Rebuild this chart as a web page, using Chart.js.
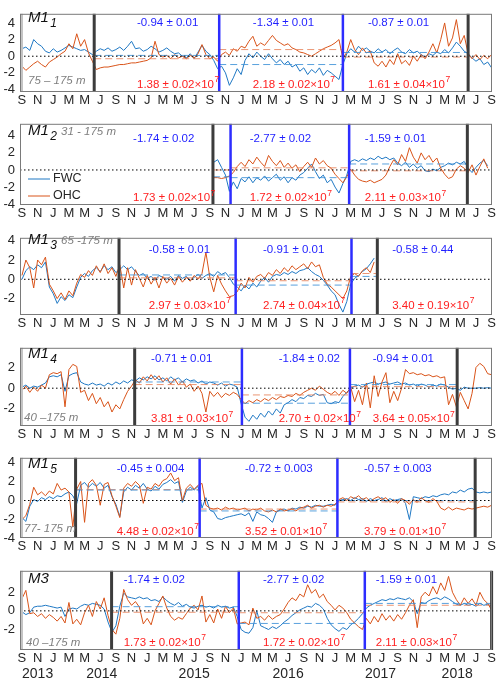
<!DOCTYPE html>
<html>
<head>
<meta charset="utf-8">
<script src="https://cdn.jsdelivr.net/npm/chart.js@4.4.1/dist/chart.umd.min.js"></script>
<style>
  html, body { margin: 0; padding: 0; background: #fff; }
  #fig { position: relative; width: 500px; height: 684px; }
  #fig canvas { position: absolute; left: 0; }
</style>
</head>
<body>
<div id="fig"></div>
<script>
const STEP = 0.5
const monthLetters = ['J', 'F', 'M', 'A', 'M', 'J', 'J', 'A', 'S', 'O', 'N', 'D']
const monthTicks = [0, 2, 4, 6, 8, 10, 12, 14, 16, 18, 20, 22, 24, 26, 28, 30,
  32, 34, 36, 38, 40, 42, 44, 46, 48, 50, 52, 54, 56, 58, 60]
const years = ['2013', '2014', '2015', '2016', '2017', '2018']
const yearMonths = [2.0, 10.2, 22.0, 34.0, 45.8, 55.6]

// ---- M1_1 ----
const m11Fwc = [
  0.9, 1.1, 0.7, 2.0, 1.5, 1.2, 0.6, 0.4, 0.9, 0.5,
  0.7, 1.0, 1.3, 1.1, 0.9, 0.7, 0.8, 0.5, 0.2, 0.6,
  0.9, 0.7, 1.0, 0.6, 0.8, 1.1, 0.7, 1.2, 1.8, 0.9,
  1.0, 0.6, 0.8, 1.2, 0.9, 0.5, 0.7, 1.0, 0.6, 0.3,
  0.4, 0.0, -0.2, 0.3, -0.3, 0.5, 1.3, 0.6, 0.2, -0.5,
  -1.5, -1.2, -2.0, -3.5, -2.6, -1.5, -2.2, -0.5, 0.3, -0.2,
  0.5, 0.0, -0.4, 0.3, -0.3, -0.8, -0.4, -1.0, -0.6, -1.3,
  -1.0, -1.8, -1.4, -2.2, -1.6, -2.0, -1.4, -2.3, -1.7, -2.0,
  -2.4, -2.8, -1.0, 0.3, 0.9, 0.5, 1.2, 0.7, 1.0, 0.6,
  0.4, 0.9, 0.5, 0.8, 0.3, 0.7, 1.0, 0.5, 0.3, 0.8,
  0.4, 0.6, 0.2, -0.1, 0.3, 0.1, 0.5, 0.3, 0.8, 0.4,
  1.0, 1.7, 1.2, 0.6, 0.3, -0.2, -0.6, -0.3, -1.0, -0.7,
  -1.4]
const m11Ohc = [
  -1.2, -1.7, -1.3, -0.9, -0.6, -1.0, -1.3, -0.7, -0.4, -0.1,
  0.3, 0.6, 1.5, 0.9, 2.7, 1.2, 2.0, 0.4, -0.6, -1.6,
  -1.4, -1.3, -1.3, -1.2, -1.1, -1.0, -1.0, -0.9, -0.8, -0.8,
  -0.7, -0.6, -0.5, -0.2, 1.8, 0.2, -0.1, 0.1, -0.3, 0.2,
  -0.2, 0.0, -0.3, 0.1, -0.2, 0.3, 1.4, 0.2, -0.3, -0.1,
  -0.6, 0.2, 0.5, 0.1, 0.9, 0.6, 1.2, 1.0, 1.8, 2.4,
  1.2, 1.6, 1.3, 1.9, 2.5, 1.9, 1.6, 1.3, 1.5, 1.0,
  0.8, 0.5, 0.4, 0.2, 0.0, 0.3, 0.6, 0.9, 1.1, 1.3,
  1.6, 2.0, -0.3, 0.5, 2.0, 0.8, 0.2, 1.0, 0.4, 0.6,
  -0.8, -1.2, -0.6, -1.3, -0.4, -1.0, 0.3, -0.9, -0.5, -1.1,
  0.0, -0.6, 0.2, -0.3, 0.5, 1.5, 0.4, 2.0, 4.0, 1.2,
  2.2, 4.4, 1.5, 2.5, 0.3, -0.3, 0.2, -0.4, 0.1, -0.3,
  0.2]
const m11Cuts = [9.23, 25.2, 41.0, 57.0]
const m11FwcMean = [0.1, -1.0, 0.45]
const m11OhcMean = [-0.3, 0.8, -0.1]
const m11FwcStats = ['-0.94 ± 0.01', '-1.34 ± 0.01', '-0.87 ± 0.01']
const m11OhcStats = ['1.38 ± 0.02', '2.18 ± 0.02', '1.61 ± 0.04']

// ---- M1_2 (starts Sep 2015) ----
const m12Start = 24.5
const m12Fwc = [
  0.9, 1.2, 0.3, -0.6, -2.5, -1.4, -2.2, -1.0, -1.4, -0.8,
  -1.5, -0.9, -1.2, -0.7, -1.3, -0.9, -0.5, -1.2, -0.8, -1.5,
  -0.9, -1.2, -0.6, -0.3, 0.2, 0.7, -0.2, -1.0, -0.6, -1.5,
  -1.1, -2.0, -2.7, -1.6, -0.6, 1.0, 1.2, 1.0, 1.3, 1.1,
  1.4, 1.2, 1.6, 1.3, 1.5, 1.2, 1.4, 0.8, 0.5, 0.9,
  0.3, 0.7, 0.2, 0.5, -0.1, -0.2, 0.1, -0.1, 0.3, 0.5,
  0.8, 0.6, 0.9, 0.7, 1.0, 0.2, -0.3, 0.3, 0.8, 1.1,
  0.5]
const m12Ohc = [
  -0.9, -0.9, -1.0, -0.9, -0.7, -0.3, 0.4, 0.9, 0.4, 1.2,
  0.7, 1.5, 0.9, 0.4, 1.7, 1.0, 0.5, 1.1, 0.3, 0.8,
  0.2, 0.6, -0.2, 0.4, 0.9, 0.3, 1.4, 0.7, 1.1, 0.5,
  0.2, -0.5, -1.0, -1.5, -0.8, 0.1, -0.6, -1.1, -1.3, -1.4,
  -1.2, -1.5, -1.3, -1.1, -0.6, 0.4, 1.2, 0.6, 1.8, 1.0,
  2.6, 1.5, 0.8, 2.0, 1.2, 1.7, 0.9, 1.4, 0.2, -0.5,
  -1.0, -0.8, 0.1, 0.5, 0.2, -0.3, 0.6, -0.6, 0.4, 1.3,
  0.2]
const m12Cuts = [24.4, 26.65, 41.8, 56.9]
const m12FwcMean = [-0.8, -0.9, 0.7]
const m12OhcMean = [0.0, 0.25, -0.1]
const m12FwcStats = ['-1.74 ± 0.02', '-2.77 ± 0.02', '-1.59 ± 0.01']
const m12OhcStats = ['1.73 ± 0.02', '1.72 ± 0.02', '2.11 ± 0.03']

// ---- M1_3 (ends Jun 2017) ----
const m13Fwc = [
  0.0, 0.9, 1.3, 1.0, 1.5, 1.2, 1.8, -0.8, -1.5, -2.5,
  -1.8, -2.2, -1.6, -1.9, -0.8, 0.2, 0.6, 0.3, 0.9, 1.2,
  0.8, 1.4, 1.0, 1.3, 0.7, 1.0, 1.4, 1.0, 1.3, 0.8,
  0.4, 0.6, 0.1, 0.3, -0.1, 0.4, 0.2, 0.0, 0.3, -0.2,
  0.4, 0.1, 0.3, -0.1, 0.2, 0.5, 0.1, 0.4, 0.6, 0.3,
  0.8, 0.5, 0.7, 0.2, -0.5, -0.8, -1.2, -0.6, -1.0, -0.4,
  -0.8, -0.2, 0.2, -0.3, 0.3, 0.5, 0.4, 0.7, 0.5, 0.8,
  0.6, 0.9, 1.0, 1.2, 0.8, 0.5, 0.3, -0.1, -0.6, -1.2,
  -1.6, -2.6, -3.4, -2.3, -0.5, 0.1, 0.4, 0.8, 1.1, 1.6,
  2.2]
const m13Ohc = [
  0.4, 2.0, 1.2, -0.9, 2.0, 1.5, 2.3, -0.5, -1.2, -2.0,
  -1.4, -2.1, -1.2, -1.7, -0.4, 0.5, 0.2, 0.9, 0.4, 1.4,
  0.7, 1.6, 0.6, 1.2, 0.3, 1.5, -0.9, 1.2, -0.6, 1.0,
  0.1, -0.8, 0.4, -0.5, 0.2, -0.9, 0.3, -0.4, 0.1, -0.6,
  0.3, -0.3, 0.2, -0.2, 0.4, 0.0, 0.6, 2.8, 0.2, -1.3,
  0.4, -0.5, -1.2, -1.8, -1.7, -1.3, -0.4, -0.9, 0.2, -0.3,
  0.3, 0.5, 0.1, 0.7, 0.4, 1.0, 0.6, 1.2, 0.8, 1.4,
  1.0, 1.3, 1.6, 1.1, 1.8, 1.3, 1.5, 0.2, -0.5, -0.8,
  -1.2, -1.6, -2.0, -1.2, 0.3, 0.6, 0.3, 0.9, 1.2, 0.7,
  1.8]
const m13Cuts = [12.4, 27.3, 42.1, 45.4]
const m13FwcMean = [0.45, -0.6, 0.3]
const m13OhcMean = [0.15, -0.15, 0.6]
const m13FwcStats = ['-0.58 ± 0.01', '-0.91 ± 0.01', '-0.58 ± 0.44']
const m13OhcStats = ['2.97 ± 0.03', '2.74 ± 0.04', '3.40 ± 0.19']

// ---- M1_4 ----
const m14Fwc = [
  0.1, 0.3, 0.0, 0.2, 0.1, 0.3, 0.5, 1.1, 1.2, 1.1,
  1.3, -0.3, 1.2, 1.4, 1.5, 0.6, 0.4, 0.3, 0.5, 0.3,
  0.4, 0.2, 0.5, 0.3, 0.6, 0.4, 0.7, 0.5, 0.8, 0.7,
  1.0, 0.8, 1.1, 0.9, 1.2, 0.8, 1.0, 0.7, 1.1, 0.8,
  1.0, 0.6, 0.9, 0.7, 0.8, 0.5, 0.7, 0.4, 0.6, 0.5,
  0.3, 0.5, 0.2, 0.4, 0.3, 0.1, -1.5, -2.8, -3.2, -2.6,
  -3.0, -2.4, -2.8, -2.2, -2.6, -2.0, -2.4, -1.6, -1.4, -1.1,
  -1.3, -0.9, -1.0, -0.7, -0.8, -0.5, -0.7, -0.6, -1.4, -1.5,
  -1.3, -1.4, -0.8, -0.4, 0.0, 0.2, 0.3, 0.1, 0.4, 0.5,
  0.6, 0.4, 0.5, 0.6, 0.4, 0.5, 0.6, 0.4, 0.5, 0.3,
  0.4, 0.2, 0.4, 0.3, 0.1, 0.3, 0.2, 0.4, 0.3, 0.1,
  -0.1, 0.0, -0.2, 0.1, 0.0, 0.0, 0.0, 0.05, 0.0, 0.05,
  0.0]
const m14Ohc = [
  -0.2, 0.2, -0.4, 0.1, -0.3, 0.3, 0.0, 1.3, 1.5, 1.4,
  1.6, -1.8, 1.8, 2.3, 2.1, -0.4, -0.2, -1.2, -0.5, -1.5,
  -0.9, -1.8, -1.3, -2.3, -1.6, -2.0, -1.1, -0.3, 0.2, 0.8,
  0.5, 1.1, 0.7, 1.3, 0.8, 1.2, 0.6, 1.0, 0.4, 0.9,
  0.3, 0.7, 0.1, 0.4, -0.3, 0.2, -0.5, -2.3, -0.3, -0.8,
  -0.4, -0.9, -0.5, -0.7, -0.4, -0.6, -1.1, -1.5, -1.2, -1.4,
  -1.1, -1.3, -1.0, -1.2, -0.9, -1.1, -0.8, -0.9, -0.7, -0.8,
  -0.5, -0.7, -0.4, -0.2, 0.0, -0.2, 0.2, -0.1, -0.4, -0.6,
  -0.3, -0.7, -0.2, -0.5, 0.1, -1.3, -0.2, -1.6, 0.5, -1.9,
  1.2, -0.8, 0.6, 1.5, -1.4, -0.3, -1.2, 0.0, 1.8, 1.4,
  1.5, 1.3, 1.4, 1.2, 1.3, 1.1, 1.2, 1.0, 1.1, -1.6,
  -0.6, -1.8, -0.4, -1.2, -2.0, -0.5, 2.0, 2.4, 2.1, 1.4,
  1.3]
const m14Cuts = [14.4, 28.1, 41.9, 55.6]
const m14FwcMean = [0.6, -1.45, 0.35]
const m14OhcMean = [0.35, -0.65, 0.15]
const m14FwcStats = ['-0.71 ± 0.01', '-1.84 ± 0.02', '-0.94 ± 0.01']
const m14OhcStats = ['3.81 ± 0.03', '2.70 ± 0.02', '3.64 ± 0.05']

// ---- M1_5 ----
const m15Fwc = [
  -1.8, -2.2, -0.6, 0.1, -0.1, 0.3, 0.1, 0.4, 0.2, 0.5,
  0.4, 0.7, 0.9, 0.5, -0.3, 1.6, 1.9, 1.4, 1.8, 1.5,
  1.9, 1.3, 1.6, 0.4, -0.4, -1.7, 0.9, 1.4, 1.1, 1.6,
  1.3, 1.8, 1.2, 1.0, 1.5, 1.2, 1.7, 1.9, 2.2, 1.8,
  2.0, -0.2, 1.0, 1.4, 1.1, 1.5, -0.8, 0.3, -1.0, -1.2,
  -1.9, -2.0, -1.8, -1.7, -1.6, -1.5, -1.4, -1.6, -1.3, -2.2,
  -1.2, -1.5, -1.6, -1.9, -2.3, -1.2, -1.0, -0.9, -1.1, -0.8,
  -0.9, -0.7, -0.8, -0.6, -0.7, -0.5, -0.6, -0.6, -0.5, -0.4,
  -0.5, 0.0, 0.1, 0.2, 0.0, 0.3, 0.1, 0.2, -0.1, 0.2,
  0.0, 0.1, 0.3, -0.1, 0.2, 0.0, 0.1, 0.2, -0.3, -2.0,
  0.4, 0.3, 0.2, 0.4, 0.3, 0.5, 0.4, 0.6, 0.7, 0.6,
  0.9, 0.8, 1.1, 0.9, 1.2, 1.3, 0.9, 0.8, 0.9, 0.8,
  0.9]
const m15Ohc = [
  -2.0, -1.6, -0.4, 1.4, 0.6, 0.9, 0.5, 1.0, 0.7, 1.8,
  1.1, 1.3, 0.9, -2.8, 1.2, 2.0, -2.3, 1.8, 2.2, 1.6,
  -0.5, 1.7, 1.9, 0.5, -0.6, -1.8, 1.3, 1.8, 1.5, 2.0,
  1.6, -0.3, 1.4, 1.2, 1.8, 1.5, 2.1, 2.3, 2.9, 2.1,
  2.4, 0.0, 1.3, 1.7, 1.2, 1.6, 1.8, -0.5, -0.8, -0.9,
  -0.8, -1.0, -0.7, -0.9, -0.8, -1.0, -0.9, -0.8, -1.1, -0.9,
  -1.0, -0.8, -1.1, -1.2, -1.0, -1.2, -0.9, -1.1, -1.0, -0.9,
  -1.1, -0.8, -0.7, -0.5, -0.8, -0.6, -0.5, -0.7, -0.5, -0.6,
  -0.4, 0.1, 0.3, 0.0, 0.4, 0.2, 0.5, 0.1, 0.3, -0.1,
  0.2, 0.4, 0.1, 0.3, -0.2, 0.1, -0.3, 0.2, 0.0, -0.4,
  0.1, -0.2, 0.3, 0.0, -0.2, 0.2, -0.1, -0.8, -1.0, -0.7,
  -1.0, -0.8, -0.9, -1.0, -0.8, -0.9, -0.8, -0.7, -0.6, -0.7,
  -0.5]
const m15Cuts = [6.85, 22.7, 40.3, 57.9]
const m15FwcMean = [1.1, -1.1, 0.0]
const m15OhcMean = [1.15, -0.9, -0.15]
const m15FwcStats = ['-0.45 ± 0.004', '-0.72 ± 0.003', '-0.57 ± 0.003']
const m15OhcStats = ['4.48 ± 0.02', '3.52 ± 0.01', '3.79 ± 0.01']

// ---- M3 ----
const m3Fwc = [
  -0.1, -0.4, -0.2, 0.4, 0.5, 0.5, 0.6, 0.5, 0.4, 0.3,
  0.4, -0.6, 0.2, 0.3, 0.2, 0.5, 0.7, 0.6, 0.8, 0.7,
  0.6, 0.2, -1.2, -2.3, -1.6, 0.5, 1.9, 1.5, 1.4, 1.3,
  1.5, 1.3, 1.4, 1.1, 1.2, 1.0, 1.5, 1.1, 0.8, 0.6,
  0.9, 0.5, 0.7, 0.4, 0.3, 0.5, 0.6, 0.4, 0.5, 0.3,
  0.6, 0.4, 0.5, 0.3, 0.4, -0.6, -2.0, -2.3, -2.4, -1.8,
  0.0, -1.6, -1.8, -2.0, -1.7, -1.9, -1.6, -1.2, -0.9, -0.5,
  -0.2, 0.1, 0.3, 0.5, 0.4, 0.8, 0.6, 0.2, -0.8, -1.5,
  -1.9, -2.2, -1.8, -2.0, -1.5, -1.2, -0.8, -0.3, 0.3, 0.6,
  0.8, 1.0, 1.2, 1.1, 1.3, 1.2, 1.4, 1.3, 1.2, 1.4,
  1.0, -0.3, 0.9, 0.8, 1.1, 1.3, 1.4, 1.2, 1.5, 1.3,
  1.0, 0.7, 0.6, 0.8, 0.6, 0.7, 0.5, 0.8, 0.6, 0.7,
  0.5]
const m3Ohc = [
  1.3, 2.2, -0.3, -0.2, -0.6, -0.3, -0.8, -0.4, -0.7, -1.1,
  -0.6, -1.3, 0.9, -1.4, -0.9, -1.5, -0.2, 0.6, -0.6, 1.0,
  0.2, 1.4, -0.5, -2.0, -2.5, -0.8, 2.3, 1.2, 0.6, 1.0,
  0.4, -1.4, -0.8, -1.5, 0.0, 0.8, 1.6, 0.3, -0.6, -1.0,
  -0.7, -0.9, -0.3, 0.3, 0.6, 0.1, 1.6, -1.2, -0.4, -1.3,
  0.2, -0.8, 0.5, -0.2, 0.3, -1.4, -1.3, -1.2, -1.5, 0.3,
  -0.8, -0.6, -1.0, -0.5, -0.9, -0.6, -0.4, 0.2, 0.9, 1.4,
  1.1, 1.8, 1.5, 2.8, 1.9, 2.3, 1.4, 1.8, 1.0, 0.6,
  0.1, 0.6, 0.3, -0.2, -0.9, -1.3, -1.7, -2.0, -0.8, -1.4,
  -0.6, -1.2, -0.3, -1.0, -0.5, -1.1, -0.4, -0.9, -0.2, 0.6,
  1.2, -1.8, 1.5, 2.0, 1.6, 2.6, 1.8, 3.0, 2.2, 3.7,
  2.0, 1.2, 0.6, 1.4, 0.8, 1.3, 0.6, 2.0, 1.2, 0.8,
  0.1]
const m3Cuts = [11.45, 27.7, 43.8, 60.0]
const m3FwcMean = [0.45, -1.35, 0.8]
const m3OhcMean = [-0.15, -0.2, 0.6]
const m3FwcStats = ['-1.74 ± 0.02', '-2.77 ± 0.02', '-1.59 ± 0.01']
const m3OhcStats = ['1.73 ± 0.02', '1.72 ± 0.02', '2.11 ± 0.03']

// layout of the six stacked panels (page pixels)
// depthPos x = null means "right after the panel name"
const panels = [
  { name: 'M1', sub: '1', depth: '75 – 175 m', fwc: m11Fwc, ohc: m11Ohc, start: 0,
    cuts: m11Cuts, fwcMean: m11FwcMean, ohcMean: m11OhcMean, fwcStats: m11FwcStats, ohcStats: m11OhcStats,
    statX: [14.7, 29.5, 44.2], statY: [4.0, -3.4], top: 5, bottom: 92, yMin: -4.3, yMax: 5.1,
    yTicks: [-4, -2, 0, 2, 4], namePos: [28, 22], depthPos: [28, 84], band: true },
  { name: 'M1', sub: '2', depth: '31 - 175 m', fwc: m12Fwc, ohc: m12Ohc, start: m12Start,
    cuts: m12Cuts, fwcMean: m12FwcMean, ohcMean: m12OhcMean, fwcStats: m12FwcStats, ohcStats: m12OhcStats,
    statX: [14.2, 29.1, 43.8], statY: [3.6, -3.3], top: 115, bottom: 205, yMin: -4.1, yMax: 5.4,
    yTicks: [-4, -2, 0, 2, 4], namePos: [28, 135], depthPos: [null, 135], legend: true },
  { name: 'M1', sub: '3', depth: '65 -175 m', fwc: m13Fwc, ohc: m13Ohc, start: 0,
    cuts: m13Cuts, fwcMean: m13FwcMean, ohcMean: m13OhcMean, fwcStats: m13FwcStats, ohcStats: m13OhcStats,
    statX: [16.2, 30.8, 47.3], statY: [3.1, -2.7], top: 229, bottom: 315, yMin: -3.7, yMax: 4.3,
    yTicks: [-2, 0, 2, 4], namePos: [28, 244], depthPos: [null, 244] },
  { name: 'M1', sub: '4', depth: '40 –175 m', fwc: m14Fwc, ohc: m14Ohc, start: 0,
    cuts: m14Cuts, fwcMean: m14FwcMean, ohcMean: m14OhcMean, fwcStats: m14FwcStats, ohcStats: m14OhcStats,
    statX: [16.5, 32.8, 44.8], statY: [2.8, -3.0], top: 339, bottom: 426, yMin: -3.65, yMax: 3.9,
    yTicks: [-2, 0, 2], namePos: [28, 358], depthPos: [24, 421], band: true },
  { name: 'M1', sub: '5', depth: '77- 175 m', fwc: m15Fwc, ohc: m15Ohc, start: 0,
    cuts: m15Cuts, fwcMean: m15FwcMean, ohcMean: m15OhcMean, fwcStats: m15FwcStats, ohcStats: m15OhcStats,
    statX: [12.1, 28.5, 43.7], statY: [3.3, -3.3], top: 449, bottom: 538, yMin: -3.95, yMax: 4.5,
    yTicks: [-4, -2, 0, 2, 4], namePos: [28, 468], depthPos: [24, 532], band: true },
  { name: 'M3', sub: '', depth: '40 –175 m', fwc: m3Fwc, ohc: m3Ohc, start: 0,
    cuts: m3Cuts, fwcMean: m3FwcMean, ohcMean: m3OhcMean, fwcStats: m3FwcStats, ohcStats: m3OhcStats,
    statX: [13.0, 30.8, 45.2], statY: [3.3, -3.4], top: 562, bottom: 650, yMin: -4.2, yMax: 4.3,
    yTicks: [-2, 0, 2], namePos: [28, 583], depthPos: [26, 646], band: true, last: true }
]

const FONT = '"Liberation Sans", Arial, sans-serif'
const FWC_COLOR = '#1f78c4'
const OHC_COLOR = '#d9541a'
const PAD_TOP = 4

Chart.defaults.font.family = FONT
Chart.defaults.color = '#262626'

function series(start, values) {
  return values.map((v, i) => ({ x: start + i * STEP, y: v }))
}

function makeDecorations(p, canvasTop) {
  return {
    id: 'decorations',
    afterDatasetsDraw(chart) {
      const { ctx, chartArea: a, scales: { x, y } } = chart
      ctx.save()

      // zero line
      const y0 = y.getPixelForValue(0)
      ctx.strokeStyle = '#000'
      ctx.lineWidth = 1
      ctx.setLineDash([1.5, 2.5])
      ctx.beginPath(); ctx.moveTo(a.left, y0); ctx.lineTo(a.right, y0); ctx.stroke()
      ctx.setLineDash([])

      // deployment / segment lines
      p.cuts.forEach((c, i) => {
        const edge = i === 0 || i === p.cuts.length - 1
        const px = x.getPixelForValue(c)
        ctx.strokeStyle = edge ? '#3c3c3c' : '#2d2dff'
        ctx.lineWidth = edge ? 3 : 2.5
        ctx.beginPath(); ctx.moveTo(px, a.top); ctx.lineTo(px, a.bottom); ctx.stroke()
      })

      // frame
      if (p.band) {
        ctx.fillStyle = '#c4c4c4'
        ctx.fillRect(a.left, a.top, 3, a.bottom - a.top)
      }
      ctx.strokeStyle = '#7a7a7a'
      ctx.lineWidth = 1
      ctx.strokeRect(a.left + 0.5, a.top + 0.5, a.right - a.left - 1, a.bottom - a.top - 1)

      // statistics per segment
      ctx.textBaseline = 'middle'
      ctx.textAlign = 'left'
      p.fwcStats.forEach((s, i) => {
        const px = x.getPixelForValue(p.statX[i])
        ctx.font = '11.5px ' + FONT
        ctx.fillStyle = '#1f1fff'
        ctx.fillText(s, px, y.getPixelForValue(p.statY[0]))
        const py = y.getPixelForValue(p.statY[1])
        const base = p.ohcStats[i] + '×10'
        ctx.fillStyle = '#ff2020'
        ctx.fillText(base, px, py)
        const w = ctx.measureText(base).width
        ctx.font = '8.5px ' + FONT
        ctx.fillText('7', px + w + 0.5, py - 5)
      })

      // panel name and depth range
      ctx.textBaseline = 'alphabetic'
      ctx.fillStyle = '#111'
      ctx.font = 'italic 15px ' + FONT
      const nx = p.namePos[0], ny = p.namePos[1] - canvasTop
      ctx.fillText(p.name, nx, ny)
      let nameEnd = nx + ctx.measureText(p.name).width
      if (p.sub) {
        ctx.font = 'italic 12px ' + FONT
        ctx.fillText(p.sub, nameEnd + 1.5, ny + 5)
        nameEnd += 1.5 + ctx.measureText(p.sub).width
      }
      ctx.fillStyle = '#7f7f7f'
      ctx.font = 'italic 11.5px ' + FONT
      const dx = p.depthPos[0] === null ? nameEnd + 4 : p.depthPos[0]
      ctx.fillText(p.depth, dx, p.depthPos[1] - canvasTop)

      // legend
      if (p.legend) {
        const rows = [['FWC', FWC_COLOR, 179], ['OHC', OHC_COLOR, 196]]
        ctx.font = '12.5px ' + FONT
        ctx.textBaseline = 'middle'
        rows.forEach(([label, color, yy]) => {
          const ly = yy - canvasTop
          ctx.strokeStyle = color
          ctx.lineWidth = 1
          ctx.beginPath(); ctx.moveTo(28, ly); ctx.lineTo(50, ly); ctx.stroke()
          ctx.fillStyle = '#262626'
          ctx.fillText(label, 53, ly)
        })
      }

      // year labels under the last panel
      if (p.last) {
        ctx.font = '14px ' + FONT
        ctx.fillStyle = '#262626'
        ctx.textAlign = 'center'
        ctx.textBaseline = 'middle'
        years.forEach((yr, i) => ctx.fillText(yr, x.getPixelForValue(yearMonths[i]), a.bottom + 24))
      }
      ctx.restore()
    }
  }
}

const fig = document.getElementById('fig')

panels.forEach(p => {
  const axisH = p.last ? 34 : 16
  const canvasTop = p.top - PAD_TOP
  const h = PAD_TOP + (p.bottom - p.top) + axisH
  const canvas = document.createElement('canvas')
  canvas.width = 500
  canvas.height = h
  canvas.style.top = canvasTop + 'px'
  canvas.style.width = '500px'
  canvas.style.height = h + 'px'
  fig.appendChild(canvas)

  const datasets = [
    { data: series(p.start, p.ohc), borderColor: OHC_COLOR, borderWidth: 1, order: 1 },
    { data: series(p.start, p.fwc), borderColor: FWC_COLOR, borderWidth: 1, order: 2 }
  ]
  p.cuts.slice(0, -1).forEach((c, i) => {
    const end = p.cuts[i + 1]
    datasets.push({ data: [{ x: c, y: p.fwcMean[i] }, { x: end, y: p.fwcMean[i] }],
      borderColor: 'rgba(60,145,215,0.85)', borderDash: [7, 4], borderWidth: 1, order: 0 })
    datasets.push({ data: [{ x: c, y: p.ohcMean[i] }, { x: end, y: p.ohcMean[i] }],
      borderColor: 'rgba(232,130,90,0.85)', borderDash: [7, 4], borderWidth: 1, order: 0 })
  })

  new Chart(canvas, {
    type: 'line',
    data: { datasets },
    options: {
      responsive: false,
      animation: false,
      devicePixelRatio: 1,
      layout: { padding: { top: PAD_TOP, right: 8, left: 0, bottom: 0 } },
      elements: { point: { radius: 0 }, line: { tension: 0 } },
      plugins: { legend: { display: false }, tooltip: { enabled: false } },
      scales: {
        x: {
          type: 'linear', min: -0.25, max: 60.05,
          grid: { display: false, drawTicks: false },
          border: { display: false },
          afterBuildTicks: s => { s.ticks = monthTicks.map(v => ({ value: v })) },
          afterFit: s => { s.height = axisH },
          ticks: {
            autoSkip: false, maxRotation: 0, padding: 1,
            font: { size: 13 },
            callback: v => monthLetters[(8 + v) % 12]
          }
        },
        y: {
          min: p.yMin, max: p.yMax,
          grid: { display: false, drawTicks: false },
          border: { display: false },
          afterBuildTicks: s => { s.ticks = p.yTicks.map(v => ({ value: v })) },
          afterFit: s => { s.width = 20 },
          ticks: { padding: 5, font: { size: 13 }, callback: v => String(v) }
        }
      }
    },
    plugins: [makeDecorations(p, canvasTop)]
  })
})
</script>
</body>
</html>
